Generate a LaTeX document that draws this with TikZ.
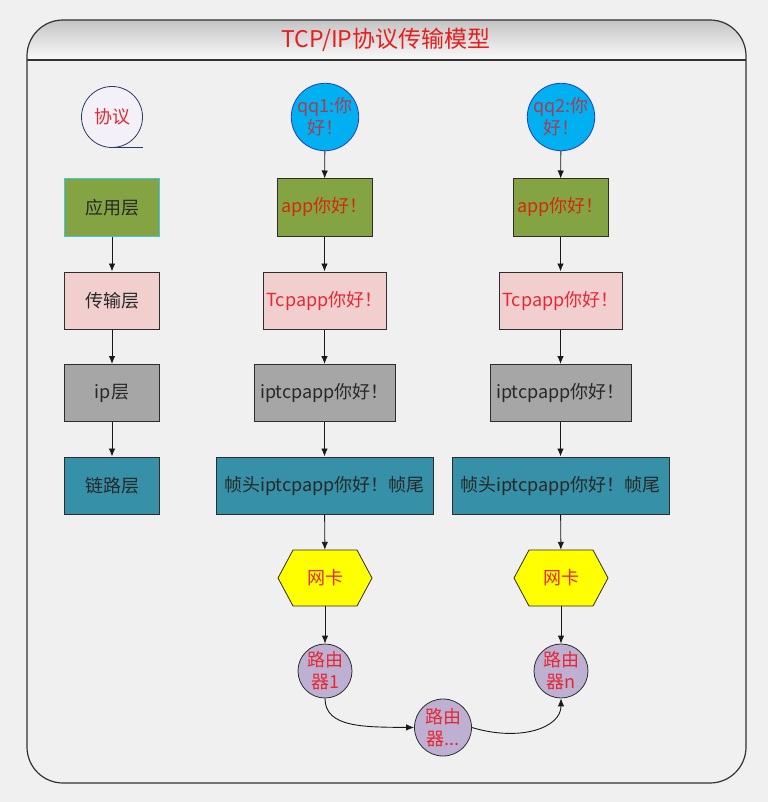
\documentclass[tikz,border=0pt]{standalone}
\usepackage{fontspec}
\setmainfont{Noto Sans CJK SC}
\usetikzlibrary{arrows.meta,shapes.geometric}
\definecolor{bg}{RGB}{240,240,240}
\definecolor{frameline}{RGB}{50,50,50}
\definecolor{hdtop}{RGB}{196,196,196}
\definecolor{hdbot}{RGB}{250,250,250}
\definecolor{titlered}{RGB}{232,30,30}
\definecolor{olive}{RGB}{132,164,68}
\definecolor{pinkbox}{RGB}{242,207,207}
\definecolor{graybox}{RGB}{166,166,166}
\definecolor{tealbox}{RGB}{53,144,168}
\definecolor{hexyel}{RGB}{255,255,0}
\definecolor{lav}{RGB}{190,176,210}
\definecolor{skyc}{RGB}{0,176,240}
\definecolor{skyb}{RGB}{32,64,192}
\definecolor{paler}{RGB}{244,240,248}
\definecolor{navy}{RGB}{42,58,106}
\definecolor{cyanb}{RGB}{64,196,224}
\definecolor{boxline}{RGB}{45,45,45}
\definecolor{txtdark}{RGB}{40,40,40}
\definecolor{txtred}{RGB}{230,40,50}
\definecolor{txtorange}{RGB}{212,42,10}
\definecolor{txtqq}{RGB}{170,60,80}
\tikzset{
  lbl/.style={font=\fontsize{18pt}{22pt}\selectfont, align=center, inner sep=0pt},
  box/.style={lbl, rectangle, draw=boxline, line width=1pt, minimum height=57pt},
  rnd/.style={lbl, circle, draw=boxline, line width=0.8pt},
  arr/.style={draw=black!90, line width=0.9pt, -{Latex[length=8pt,width=6.5pt]}},
}
\begin{document}
\begin{tikzpicture}[x=1pt,y=-1pt]
\fill[bg] (0,0) rectangle (768,802);
\useasboundingbox (0,0) rectangle (768,802);
% frame
\begin{scope}
  \clip[rounded corners=36pt] (27,20) rectangle (746,783);
  \shade[top color=hdtop, bottom color=hdbot] (27,20) rectangle (746,60);
\end{scope}
\draw[frameline, line width=1.2pt, rounded corners=36pt] (27,20) rectangle (746,783);
\draw[frameline, line width=1.2pt] (27,60) -- (746,60);
\node[font=\fontsize{23pt}{26pt}\selectfont, text=titlered, inner sep=0pt] (title) at (386,40) {TCP/IP协议传输模型};

% left column
\node[rnd, fill=paler, draw=navy, minimum size=61pt, text=txtred] (xy) at (112,117) {协议};
\draw[navy, line width=0.8pt] (xy.south) -- ++(31,0);
\node[box, fill=olive, draw=cyanb, minimum width=95pt, text=txtdark] (l1) at (112,207.5) {应用层};
\node[box, fill=pinkbox, minimum width=95pt, text=txtdark] (l2) at (112,300.5) {传输层};
\node[box, fill=graybox, minimum width=95pt, text=txtdark] (l3) at (112,393) {ip层};
\node[box, fill=tealbox, minimum width=95pt, text=txtdark] (l4) at (112,485.5) {链路层};
\draw[arr] (l1) -- (l2);
\draw[arr] (l2) -- (l3);
\draw[arr] (l3) -- (l4);

% middle column
\node[rnd, fill=skyc, draw=skyb, minimum size=64pt, text=txtqq] (q1) at (325,117) {qq1:你\\好！};
\node[box, fill=olive, minimum width=95pt, text=txtorange] (a1) at (324.5,207.5) {app你好！};
\node[box, fill=pinkbox, minimum width=123pt, text=txtred] (t1) at (324.5,300.5) {Tcpapp你好！};
\node[box, fill=graybox, minimum width=141pt, text=txtdark] (i1) at (324.5,393) {iptcpapp你好！};
\node[box, fill=tealbox, minimum width=217pt, text=txtdark] (f1) at (324.5,485.5) {帧头iptcpapp你好！帧尾};
\draw[fill=hexyel, draw=boxline, line width=0.8pt] (278,578) -- (293,550) -- (357,550) -- (372,578) -- (357,606) -- (293,606) -- cycle;
\node[lbl, minimum width=94pt, minimum height=56pt, text=txtred] (n1) at (325,578) {网卡};
\node[rnd, fill=lav, minimum size=54pt, text=txtred] (r1) at (325,671) {路由\\器1};

% right column
\node[rnd, fill=skyc, draw=skyb, minimum size=64pt, text=txtqq] (q2) at (561,117) {qq2:你\\好！};
\node[box, fill=olive, minimum width=95pt, text=txtorange] (a2) at (560.5,207.5) {app你好！};
\node[box, fill=pinkbox, minimum width=123pt, text=txtred] (t2) at (560.5,300.5) {Tcpapp你好！};
\node[box, fill=graybox, minimum width=141pt, text=txtdark] (i2) at (560.5,393) {iptcpapp你好！};
\node[box, fill=tealbox, minimum width=217pt, text=txtdark] (f2) at (560.5,485.5) {帧头iptcpapp你好！帧尾};
\draw[fill=hexyel, draw=boxline, line width=0.8pt] (514,578) -- (529,550) -- (593,550) -- (608,578) -- (593,606) -- (529,606) -- cycle;
\node[lbl, minimum width=94pt, minimum height=56pt, text=txtred] (n2) at (561,578) {网卡};
\node[rnd, fill=lav, minimum size=54pt, text=txtred] (r2) at (561,671) {路由\\器n};

% middle router
\node[rnd, fill=lav, minimum size=57pt, text=txtred] (rm) at (443,727.5) {路由\\器...};

% arrows
\draw[arr] (q1) -- (a1);
\draw[arr] (a1) -- (t1);
\draw[arr] (t1) -- (i1);
\draw[arr] (i1) -- (f1);
\draw[arr] (f1) -- (n1);
\draw[arr] (n1) -- (r1);
\draw[arr] (q2) -- (a2);
\draw[arr] (a2) -- (t2);
\draw[arr] (t2) -- (i2);
\draw[arr] (i2) -- (f2);
\draw[arr] (f2) -- (n2);
\draw[arr] (n2) -- (r2);
\draw[arr] (r1.south) .. controls (325,728) and (365,727) .. (rm.west);
\draw[arr] (rm.east) .. controls (520,742) and (561,728) .. (r2.south);
\end{tikzpicture}
\end{document}
